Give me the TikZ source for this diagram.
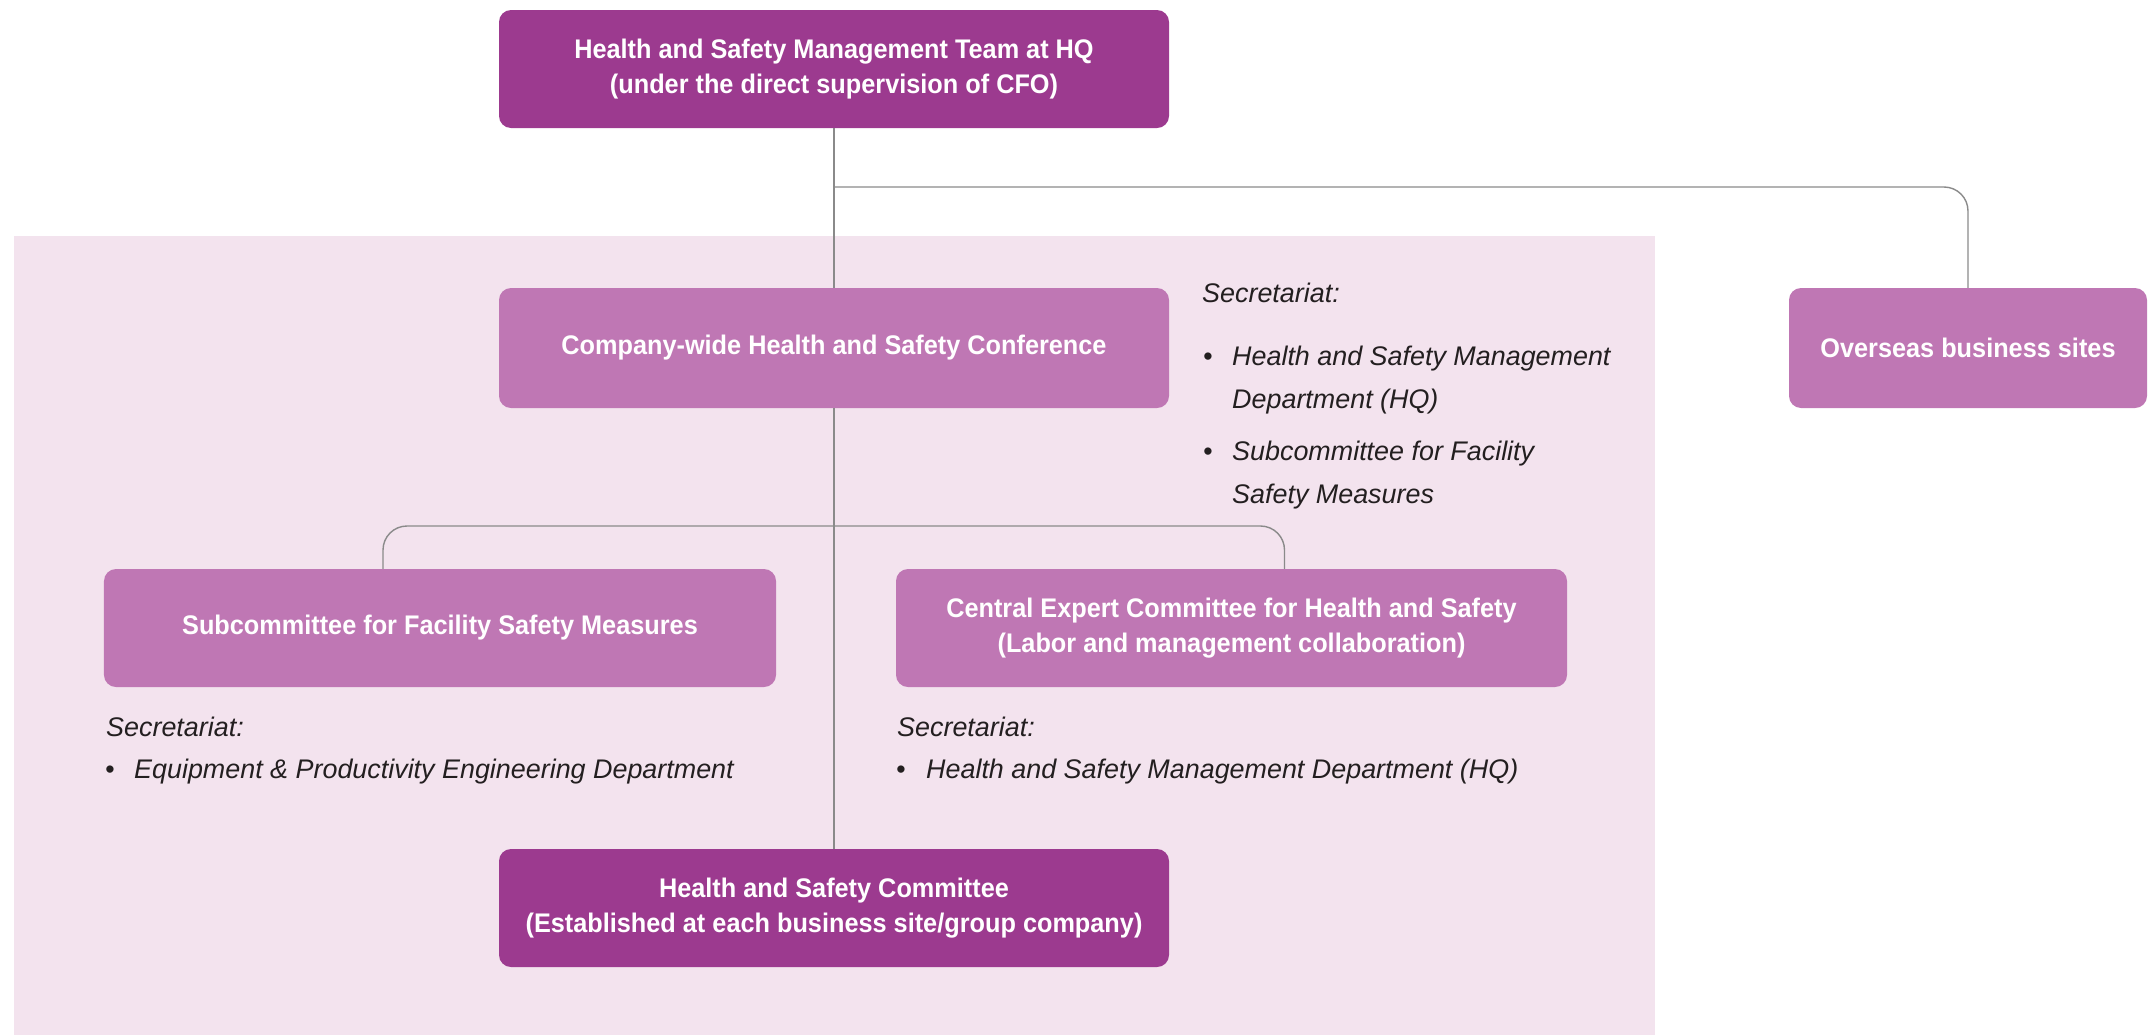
\documentclass[tikz,border=0pt]{standalone}
\usepackage{fontspec}
\setmainfont{Liberation Sans}[BoldFeatures={FakeStretch=0.94}]
\definecolor{dark}{HTML}{9C3A8F}
\definecolor{mid}{HTML}{BF77B4}
\definecolor{bgpink}{HTML}{F3E3EE}
\definecolor{conn}{HTML}{8A8A8A}
\definecolor{txt}{HTML}{231F20}
\tikzset{
 box/.style={rounded corners=12bp, text=white, font=\fontsize{27}{35}\selectfont\bfseries, align=center, inner sep=0pt, minimum height=118bp},
 darkbox/.style={box, fill=dark},
 midbox/.style={box, fill=mid},
 conline/.style={draw=conn, line width=1.4bp},
 sec/.style={anchor=base west, inner sep=0pt, text=txt, font=\fontsize{27}{42}\selectfont\itshape},
}
\begin{document}
\begin{tikzpicture}[x=1bp,y=-1bp]
\useasboundingbox (0,0) rectangle (2154,1035);
\fill[bgpink] (14,236) rectangle (1655,1035);
\node[darkbox, minimum width=670bp] (top) at (834,69) {Health and Safety Management Team at HQ\\(under the direct supervision of CFO)};
\node[midbox, minimum width=670bp, minimum height=120bp] (conf) at (834,348) {Company-wide Health and Safety Conference};
\node[midbox, minimum width=358bp, minimum height=120bp] (over) at (1968,348) {Overseas business sites};
\node[midbox, minimum width=672bp] (sub) at (440,628) {Subcommittee for Facility Safety Measures};
\node[midbox, minimum width=671bp] (cent) at (1231.5,628) {Central Expert Committee for Health and Safety\\(Labor and management collaboration)};
\node[darkbox, minimum width=670bp] (hsc) at (834,908) {Health and Safety Committee\\(Established at each business site/group company)};
\coordinate (j1) at (834,187);
\coordinate (j2) at (834,526);
\draw[conline] (top.south) -- (conf.north);
\draw[conline, rounded corners=24bp] (j1) -| (over.north);
\draw[conline] (conf.south) -- (hsc.north);
\draw[conline, rounded corners=24bp] ([xshift=-57bp]sub.north) |- (j2) -| ([xshift=53bp]cent.north);
% right secretariat
\node[sec] (s1) at (1202,302) {Secretariat:};
\node[sec] (s1b1) at (1203,365) {•};
\node[sec] (s1t1) at (1232,365) {Health and Safety Management};
\node[sec] (s1t2) at (1232,408) {Department (HQ)};
\node[sec] (s1b2) at (1203,460) {•};
\node[sec] (s1t3) at (1232,460) {Subcommittee for Facility};
\node[sec] (s1t4) at (1232,503) {Safety Measures};
% left secretariat
\node[sec] (s2) at (106,736) {Secretariat:};
\node[sec] (s2b) at (105,778) {•};
\node[sec] (s2t) at (134,778) {Equipment \& Productivity Engineering Department};
% middle secretariat
\node[sec] (s3) at (897,736) {Secretariat:};
\node[sec] (s3b) at (896,778) {•};
\node[sec] (s3t) at (926,778) {Health and Safety Management Department (HQ)};
\end{tikzpicture}
\end{document}
